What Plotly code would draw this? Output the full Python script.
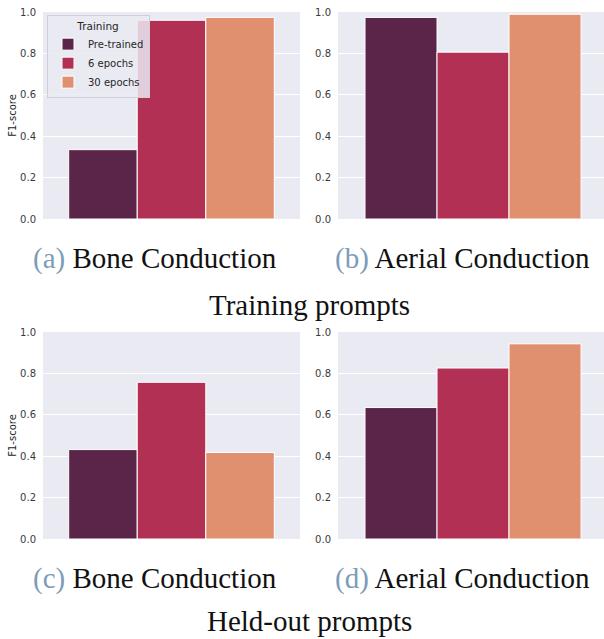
import plotly.graph_objects as go

# ---- data ----
training_labels = ["Pre-trained", "6 epochs", "30 epochs"]
bone_training = [0.335, 0.960, 0.974]
aerial_training = [0.974, 0.806, 0.989]
bone_heldout = [0.432, 0.757, 0.418]
aerial_heldout = [0.635, 0.826, 0.943]
panel_captions = ["(a)", "(b)", "(c)", "(d)"]
panel_names = ["Bone Conduction", "Aerial Conduction", "Bone Conduction", "Aerial Conduction"]
group_titles = ["Training prompts", "Held-out prompts"]
y_ticks = [0.0, 0.2, 0.4, 0.6, 0.8, 1.0]

colors = ["#5b2449", "#b33055", "#e1906f"]
W, H = 604, 639

panels = [bone_training, aerial_training, bone_heldout, aerial_heldout]
axis_ids = ["", "2", "3", "4"]

fig = go.Figure()
for p, (vals, aid) in enumerate(zip(panels, axis_ids)):
    for i, (lab, v) in enumerate(zip(training_labels, vals)):
        fig.add_trace(go.Bar(
            x=[""], y=[v], name=lab,
            marker=dict(color=colors[i], line=dict(color="white", width=1)),
            offsetgroup=str(i), legendgroup=lab,
            showlegend=(p == 0),
            xaxis="x" + aid, yaxis="y" + aid,
        ))

def px_x(px):
    return px / W

def px_y(py):
    return 1 - py / H

x_domains = [(px_x(43), px_x(300)), (px_x(338), 1.0)] * 2
y_domains = [(px_y(219), px_y(12))] * 2 + [(px_y(539), px_y(332))] * 2
x_ranges = [[-0.5, 0.5], [-0.5, 0.485]] * 2

tickfont = dict(family="DejaVu Sans", size=10, color="#3a3a3a")
layout = dict(
    width=W, height=H,
    margin=dict(l=0, r=0, t=0, b=0, autoexpand=False),
    paper_bgcolor="white",
    plot_bgcolor="#eaeaf2",
    barmode="group", bargap=0.2, bargroupgap=0,
    showlegend=True,
    legend=dict(
        x=px_x(47), y=px_y(15), xanchor="left", yanchor="top",
        bgcolor="rgba(234,234,242,0.85)", bordercolor="#cfcfd6", borderwidth=1,
        font=dict(family="DejaVu Sans", size=10, color="#262626"),
        title=dict(text="Training", side="top center",
                   font=dict(family="DejaVu Sans", size=10.5, color="#262626")),
        tracegroupgap=0, itemwidth=30,
    ),
)
for k, aid in enumerate(axis_ids):
    layout["xaxis" + aid] = dict(
        domain=list(x_domains[k]), anchor="y" + aid, range=x_ranges[k],
        showticklabels=False, showgrid=False, zeroline=False, ticks="",
        type="category", fixedrange=True, automargin=False,
    )
    ya = dict(
        domain=list(y_domains[k]), anchor="x" + aid, range=[0, 1.0],
        tickvals=y_ticks, ticktext=[f"{t:.1f}" for t in y_ticks],
        showgrid=True, gridcolor="white", gridwidth=1, zeroline=False,
        ticks="", tickfont=tickfont, ticklabelstandoff=6, automargin=False,
        fixedrange=True,
    )
    if k in (0, 2):
        ya["title"] = dict(text="F1-score", standoff=1,
                           font=dict(family="DejaVu Sans", size=10, color="#262626"))
    layout["yaxis" + aid] = ya

fig.update_layout(**layout)

cap_font = dict(family="Liberation Serif", size=29, color="#111111")
title_font = dict(family="Liberation Serif", size=29, color="#111111")
cap_x = [154.5, 462, 154.5, 462]
cap_y = [258, 258, 578, 578]
for k in range(4):
    fig.add_annotation(
        xref="paper", yref="paper", x=px_x(cap_x[k]), y=px_y(cap_y[k]),
        xanchor="center", yanchor="middle", showarrow=False,
        text=f"<span style='color:#7d9cb8'>{panel_captions[k]}</span> {panel_names[k]}",
        font=cap_font, borderpad=0,
    )
for t, yy in zip(group_titles, [305, 621]):
    fig.add_annotation(
        xref="paper", yref="paper", x=px_x(309), y=px_y(yy),
        xanchor="center", yanchor="middle", showarrow=False,
        text=t, font=title_font, borderpad=0,
    )

fig.write_html(
    "out.html",
    config={"displayModeBar": False},
    post_script="document.body.style.margin='0';document.body.style.padding='0';",
)
